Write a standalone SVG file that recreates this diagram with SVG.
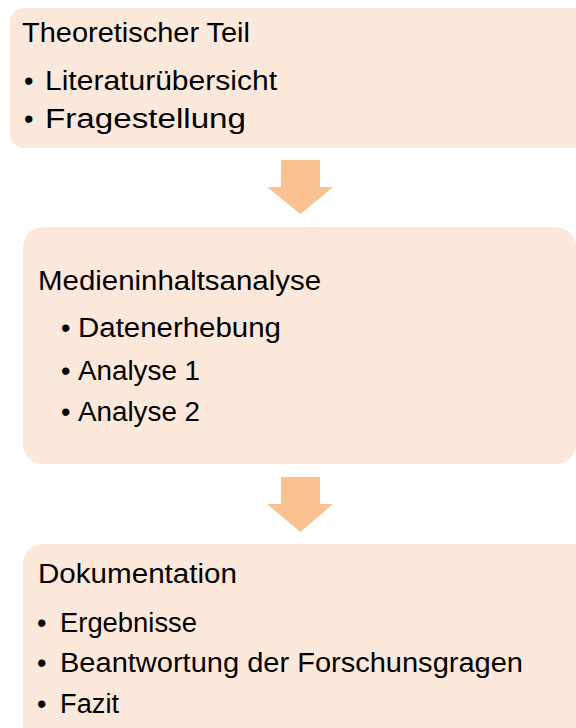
<svg xmlns="http://www.w3.org/2000/svg" width="576" height="728" viewBox="0 0 576 728">
<style>
.box{fill:#FDE9DB}
.arr{fill:#F9C290}
text{font-family:"Liberation Sans",Arial,sans-serif;font-size:27px;fill:#000}
</style>
<rect width="576" height="728" fill="#fff"/>
<g id="connectors">
<polygon class="arr" points="281,160 320,160 320,187 333,187 300.5,214 267,187 281,187"/>
<polygon class="arr" points="281,477 320,477 320,504 333,504 300.5,532 267,504 281,504"/>
</g>
<g id="node1">
<rect class="box" x="10" y="8" width="600" height="140" rx="14"/>
<text x="22" y="42" textLength="228" lengthAdjust="spacingAndGlyphs">Theoretischer Teil</text>
<text x="24" y="90">•</text>
<text x="45" y="90" textLength="232" lengthAdjust="spacingAndGlyphs">Literaturübersicht</text>
<text x="24" y="128">•</text>
<text x="45" y="128" textLength="201" lengthAdjust="spacingAndGlyphs">Fragestellung</text>
</g>
<g id="node2">
<rect class="box" x="23" y="227" width="553" height="237" rx="20"/>
<text x="38" y="290" textLength="283" lengthAdjust="spacingAndGlyphs">Medieninhaltsanalyse</text>
<text x="61" y="337">•</text>
<text x="78" y="337" textLength="203" lengthAdjust="spacingAndGlyphs">Datenerhebung</text>
<text x="61" y="380">•</text>
<text x="78" y="380" textLength="122" lengthAdjust="spacingAndGlyphs">Analyse 1</text>
<text x="61" y="421">•</text>
<text x="78" y="421" textLength="122" lengthAdjust="spacingAndGlyphs">Analyse 2</text>
</g>
<g id="node3">
<rect class="box" x="23" y="544" width="600" height="220" rx="20"/>
<text x="38" y="583" textLength="199" lengthAdjust="spacingAndGlyphs">Dokumentation</text>
<text x="37" y="632">•</text>
<text x="60" y="632" textLength="137" lengthAdjust="spacingAndGlyphs">Ergebnisse</text>
<text x="37" y="672">•</text>
<text x="60" y="672" textLength="463" lengthAdjust="spacingAndGlyphs">Beantwortung der Forschunsgragen</text>
<text x="37" y="713">•</text>
<text x="60" y="713" textLength="59" lengthAdjust="spacingAndGlyphs">Fazit</text>
</g>
</svg>
